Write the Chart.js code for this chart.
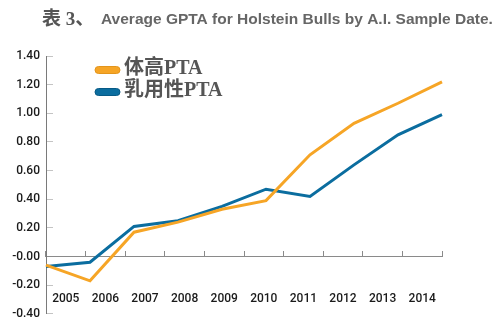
<!DOCTYPE html>
<html>
<head>
<meta charset="utf-8">
<script src="https://cdn.jsdelivr.net/npm/chart.js@4.4.1/dist/chart.umd.min.js"></script>
<style>
  html, body { margin: 0; padding: 0; background: #fff; }
</style>
</head>
<body>
<canvas id="gptaChart" width="500" height="334"></canvas>
<script>
const YEARS = ["2005", "2006", "2007", "2008", "2009", "2010", "2011", "2012", "2013", "2014"];

const SERIES_NAMES = ["体高PTA", "乳用性PTA"];

// GPTA by sample year
const STATURE_PTA = [-0.06, -0.17, 0.17, 0.24, 0.33, 0.39, 0.71, 0.93, 1.07, 1.22];
const DAIRY_PTA = [-0.07, -0.04, 0.21, 0.25, 0.35, 0.47, 0.42, 0.64, 0.85, 0.99];

const Y_TICK_LABELS = ["-0.40", "-0.20", "-0.00", "0.20", "0.40", "0.60", "0.80", "1.00", "1.20", "1.40"];

const TITLE_PREFIX = "表 3、";
const TITLE_TEXT = "Average GPTA for Holstein Bulls by A.I. Sample Date.";

const ORANGE = "#f6a526";
const ORANGE_DARK = "#e3951c";
const BLUE = "#0b6d9f";
const BLUE_DARK = "#075a86";

const TICK_FONT = { family: "Roboto, 'Liberation Sans', sans-serif", size: 12, weight: "500" };

// heading: chinese prefix + english caption
const titlePlugin = {
  id: "titlePlugin",
  afterDraw(chart) {
    const { ctx } = chart;
    ctx.save();
    ctx.textBaseline = "alphabetic";
    ctx.fillStyle = "#555";
    ctx.font = "bold 19px 'Liberation Serif', 'Noto Sans CJK SC'";
    ctx.fillText(TITLE_PREFIX, 42, 25);
    ctx.fillStyle = "#666";
    ctx.font = "bold 15.5px 'Liberation Sans', Arial, sans-serif";
    ctx.fillText(TITLE_TEXT, 101, 24);
    ctx.restore();
  }
};

// legend sits inside the plot, top-left
const insideLegendPlugin = {
  id: "insideLegendPlugin",
  afterDatasetsDraw(chart) {
    const { ctx } = chart;
    const rows = [70, 92];
    ctx.save();
    chart.data.datasets.forEach((ds, i) => {
      const y = rows[i];
      ctx.beginPath();
      ctx.roundRect(95, y - 3.5, 25, 7, 3.5);
      ctx.fillStyle = ds.borderColor;
      ctx.fill();
      ctx.lineWidth = 1;
      ctx.strokeStyle = ds.markerStroke;
      ctx.stroke();

      ctx.fillStyle = "#555";
      ctx.font = "bold 20px 'Liberation Serif', 'Noto Sans CJK SC'";
      ctx.textBaseline = "middle";
      ctx.fillText(ds.label, 124, y - 1);
    });
    ctx.restore();
  }
};

const ctx = document.getElementById("gptaChart").getContext("2d");

new Chart(ctx, {
  type: "line",
  data: {
    labels: YEARS,
    datasets: [
      {
        label: SERIES_NAMES[0],
        data: STATURE_PTA,
        borderColor: ORANGE,
        markerStroke: ORANGE_DARK,
        borderWidth: 3,
        pointRadius: 0,
        tension: 0,
        xAxisID: "x"
      },
      {
        label: SERIES_NAMES[1],
        data: DAIRY_PTA,
        borderColor: BLUE,
        markerStroke: BLUE_DARK,
        borderWidth: 3,
        pointRadius: 0,
        tension: 0,
        xAxisID: "x"
      }
    ]
  },
  options: {
    responsive: false,
    animation: false,
    devicePixelRatio: 1,
    layout: { padding: { top: 56, right: 58, bottom: 19, left: 0 } },
    plugins: {
      legend: { display: false },
      title: { display: false },
      tooltip: { enabled: false }
    },
    scales: {
      x: {
        type: "category",
        offset: false,
        display: false
      },
      xYears: {
        type: "category",
        axis: "x",
        position: { y: 0 },
        offset: true,
        border: { color: "#8a8a8a", width: 1 },
        grid: { offset: true, drawOnChartArea: false, tickLength: -6, color: "#8a8a8a" },
        ticks: { padding: 41, color: "#1a1a1a", font: TICK_FONT, maxRotation: 0, autoSkip: false }
      },
      y: {
        min: -0.4,
        max: 1.4,
        afterFit: (scale) => { scale.width = 46; },
        border: { color: "#7a7a7a", width: 1 },
        grid: { drawOnChartArea: false, tickLength: -7, color: "#c4c4c4" },
        ticks: {
          stepSize: 0.2,
          padding: 13,
          color: "#1a1a1a",
          font: TICK_FONT,
          callback: (value, index) => Y_TICK_LABELS[index]
        }
      }
    }
  },
  plugins: [titlePlugin, insideLegendPlugin]
});
</script>
</body>
</html>
